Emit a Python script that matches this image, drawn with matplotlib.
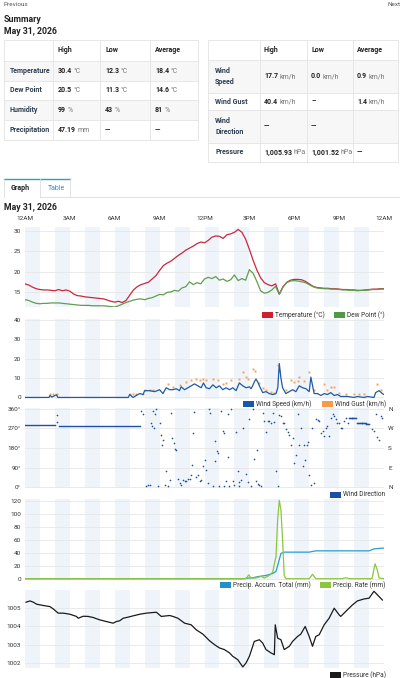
import numpy as np
import matplotlib
matplotlib.use('Agg')
import matplotlib.pyplot as plt
from matplotlib.patches import Rectangle

plt.rcParams['font.family'] = ['Roboto', 'DejaVu Sans']

# ---------------- data ----------------
hours_q = np.arange(0, 24.01, 0.25)
temperature = [17.0, 16.7, 16.2, 15.8, 15.6, 15.5, 15.5, 15.4, 15.3, 15.6, 15.3, 15.5,
               15.2, 14.5, 14.1, 14.0, 13.8, 13.7, 13.6, 13.5, 13.4, 13.3, 13.0, 12.7,
               12.5, 12.7, 12.4, 12.9, 14.2, 15.5, 16.3, 16.8, 17.1, 17.4, 18.2, 19.0,
               20.3, 21.5, 22.1, 22.6, 23.3, 24.0, 24.6, 25.3, 25.8, 26.3, 26.9, 27.3,
               27.1, 27.7, 28.5, 28.8, 28.7, 28.2, 29.1, 29.3, 29.7, 30.4, 29.7, 28.0,
               25.5, 22.8, 20.4, 18.5, 17.3, 16.8, 16.5, 17.0, 14.5, 16.3, 17.4, 17.9,
               18.1, 18.1, 18.0, 17.6, 17.0, 16.4, 16.1, 16.0, 15.9, 15.9, 15.8, 15.8,
               15.7, 15.6, 15.6, 15.5, 15.5, 15.4, 15.4, 15.5, 15.6, 15.7, 15.7, 15.8, 15.8]
dew_point = [13.1, 12.9, 12.5, 12.2, 12.1, 12.2, 12.2, 12.3, 12.3, 12.3, 12.2, 12.1,
             12.0, 11.9, 11.8, 11.7, 11.7, 11.7, 11.6, 11.6, 11.6, 11.6, 11.5, 11.4,
             11.3, 11.6, 12.0, 12.4, 12.7, 13.0, 13.2, 13.3, 13.1, 13.4, 13.6, 14.0,
             14.4, 14.3, 14.9, 15.0, 15.4, 15.2, 16.0, 16.3, 17.5, 16.8, 17.3, 17.0,
             18.2, 18.6, 18.3, 18.8, 17.9, 18.2, 17.6, 18.0, 19.2, 17.8, 18.3, 17.9,
             20.5, 19.6, 17.6, 15.3, 14.7, 14.9, 15.5, 16.4, 14.4, 16.2, 17.3, 17.7,
             17.8, 17.7, 17.5, 17.3, 16.8, 16.3, 16.0, 15.9, 15.8, 15.8, 15.7, 15.7,
             15.6, 15.5, 15.5, 15.4, 15.4, 15.3, 15.4, 15.4, 15.5, 15.6, 15.6, 15.7, 15.7]

wind_hours = [0, 1.6, 1.67, 1.8, 2.1, 2.2, 6.9, 7.0, 7.22, 7.44, 7.67, 7.89, 8.0, 8.33, 8.67,
              9.0, 9.22, 9.44, 9.67, 9.89, 10.11, 10.33, 10.44, 10.67, 10.89, 11.11, 11.33,
              11.56, 11.78, 11.93, 12.11, 12.33, 12.56, 12.78, 13.0, 13.22, 13.44, 13.67,
              13.89, 14.11, 14.33, 14.56, 14.78, 15.0, 15.11, 15.22, 15.33, 15.44, 15.56,
              15.67, 15.89, 16.11, 16.33, 16.56, 16.78, 16.9, 17.0, 17.11, 17.22, 17.44,
              17.67, 17.89, 18.11, 18.33, 18.56, 18.78, 19.0, 19.11, 19.33, 19.56, 19.78,
              20.0, 20.22, 20.44, 20.67, 20.89, 21.11, 21.56, 22.0, 22.22, 22.67, 22.89,
              23.33, 23.44, 23.67, 23.89, 24.0]
wind_speed = [0, 0, 1.0, 0.2, 1.4, 0, 0, 1.5, 0, 1.0, 2.0, 1.5, 3.5, 3.5, 3.0,
              4.0, 2.0, 5.0, 4.0, 4.0, 4.5, 3.5, 5.5, 4.0, 5.0, 6.0, 7.0,
              6.0, 5.0, 7.5, 5.0, 4.5, 6.5, 5.0, 6.0, 4.0, 5.0, 4.0,
              5.0, 3.5, 7.5, 6.0, 5.0, 5.5, 4.5, 6.0, 8.0, 9.5, 8.0,
              6.0, 2.5, 3.0, 2.0, 1.5, 2.0, 5.0, 17.5, 10.0, 5.0, 2.0,
              3.0, 4.0, 3.0, 6.0, 5.0, 4.5, 3.0, 10.5, 2.0, 2.0, 1.0,
              2.0, 1.5, 2.5, 1.0, 1.5, 0.5, 0.5, 0, 0.5, 0, 0.5,
              0, 2.5, 3.5, 2.0, 1.5]
gust_hours = [1.67, 1.89, 2.11, 7.0, 7.22, 7.44, 7.89, 8.0, 8.33, 8.56, 9.56, 9.89, 10.33,
              10.78, 11.11, 11.44, 11.67, 11.89, 12.11, 12.56, 12.89, 13.22, 13.44, 13.78,
              14.33, 14.56, 14.78, 14.89, 15.22, 15.4, 15.67, 15.89, 16.11, 16.44, 16.67,
              16.89, 17.0, 17.44, 17.78, 18.0, 18.22, 18.33, 18.67, 19.0, 19.33, 20.0,
              20.22, 20.44, 20.67, 21.0, 21.44, 22.0, 22.33, 22.67, 23.56, 23.78]
wind_gust = [1.7, 1.7, 1.7, 1.7, 1.7, 1.7, 1.7, 3.8, 3.8, 3.8, 7.0, 5.2, 6.4,
             8.2, 9.0, 9.4, 9.0, 9.4, 9.0, 9.4, 9.0, 7.0, 7.6, 9.0,
             9.4, 13.0, 10.8, 9.4, 14.6, 13.4, 7.6, 4.7, 3.8, 3.0, 2.4,
             17.0, 13.4, 3.8, 9.0, 8.2, 8.7, 10.8, 8.7, 13.0, 3.8, 7.0,
             3.8, 5.6, 5.6, 2.1, 1.7, 1.7, 1.7, 1.7, 7.0, 3.8]

dir_steady_hours_a = [0, 2.0]
dir_steady_a = [285, 285]
dir_steady_hours_b = [2.25, 7.7]
dir_steady_b = [280, 280]
dir_hours = [2.13, 2.16, 7.78, 7.89, 8.11, 8.22, 8.33, 8.44, 8.51, 8.6, 8.56, 8.67, 8.78, 8.89,
             9.0, 9.11, 9.22, 9.18, 9.33, 9.44, 9.56, 9.71, 9.78, 9.84, 9.93, 10.0, 10.07,
             10.22, 10.33, 10.44, 10.56, 10.67, 10.78, 10.89, 11.0, 11.11, 11.18, 11.22,
             11.33, 11.44, 11.56, 11.67, 11.78, 11.89, 12.0, 12.11, 12.22, 12.33, 12.4,
             12.56, 12.67, 12.73, 12.82, 12.89, 13.0, 13.11, 13.22, 13.29, 13.33, 13.44,
             13.56, 13.56, 13.67, 13.78, 13.89, 14.0, 14.11, 14.22, 14.29, 14.33, 14.44,
             14.56, 14.78, 14.89, 15.0, 15.11, 15.27, 15.33, 15.44, 15.49, 15.56, 15.67,
             15.78, 15.89, 16.0, 16.11, 16.22, 16.33, 16.44, 16.56, 16.67, 16.78, 16.89,
             17.0, 17.11, 17.22, 17.33, 17.44, 17.56, 17.67, 17.78, 17.89, 18.0, 18.11,
             18.22, 18.33, 18.44, 18.56, 18.67, 18.73, 18.82, 18.89, 19.0, 19.11, 19.22,
             19.33, 19.44, 19.56, 19.67, 19.78, 19.89, 20.0, 20.11, 20.22, 20.33, 20.44,
             20.56, 20.67, 20.78, 20.89, 21.0, 21.11, 21.22, 21.33, 21.44, 21.56, 21.67,
             21.72, 21.78, 21.83, 21.89, 21.94, 22.0, 22.05, 22.11, 22.22, 22.28, 22.33,
             22.39, 22.44, 22.5, 22.56, 22.62, 22.67, 22.73, 22.78, 22.83, 22.89, 22.94,
             23.0, 23.22, 23.33, 23.44, 23.56, 23.67, 23.78, 23.89]
wind_direction = [330, 300, 349, 334, 6, 9, 11, 295, 280, 272, 349, 334, 357, 6,
                  295, 241, 218, 195, 11, 72, 6, 34, 341, 226, 203, 175, 172,
                  37, 18, 11, 34, 26, 26, 37, 37, 57, 100, 249,
                  345, 46, 57, 26, 34, 95, 126, 80, 18, 357, 341,
                  6, 118, 211, 165, 157, 6, 349, 257, 249, 3, 26,
                  138, 334, 3, 357, 26, 11, 254, 75, 22, 6, 34,
                  269, 60, 23, 314, 3, 357, 129, 26, 172, 15, 11,
                  6, 341, 303, 255, 303, 303, 292, 341, 298, 72, 6,
                  329, 326, 295, 292, 265, 252, 237, 195, 226, 111, 149,
                  334, 195, 272, 95, 195, 123, 195, 206, 57, 11, 272,
                  18, 311, 308, 303, 249, 257, 234, 272, 280, 234, 318,
                  334, 326, 311, 295, 292, 272, 272, 303, 318, 295, 318,
                  318, 318, 318, 318, 318, 318, 318, 318, 292, 292, 292,
                  292, 292, 292, 292, 292, 292, 292, 292, 288, 288, 288,
                  288, 265, 257, 334, 231, 215, 326, 318]

precip_total_hours = [0, 14.56, 15.22, 15.67, 16.11, 16.56, 16.78, 16.96, 17.11, 17.33,
                      19.0, 19.44, 23.0, 23.33, 23.89, 24.0]
precip_total = [0, 0, 1.5, 3.6, 5.0, 8.0, 11.4, 26.0, 39.0, 41.0,
                41.0, 43.0, 43.0, 46.0, 47.2, 47.2]
precip_rate_hours = [0, 14.78, 14.96, 15.11, 15.44, 15.78, 16.0, 16.33, 16.56, 16.67, 16.78,
                     16.89, 17.0, 17.11, 17.22, 17.33, 17.44, 19.0, 19.22, 19.44, 21.2,
                     21.44, 21.7, 23.2, 23.4, 23.56, 23.67, 24.0]
precip_rate = [0, 0, 6.0, 1.0, 1.0, 3.5, 1.0, 5.0, 10.0, 23.0, 34.0,
               91.0, 121.0, 106.0, 60.0, 5.0, 0, 0, 6.8, 0, 0,
               1.5, 0, 0, 23.0, 13.0, 1.0, 0]

pressure_hours = [0.07, 0.33, 0.56, 0.78, 1.22, 1.67, 1.89, 2.22, 2.56, 3.0, 3.44, 3.56,
                  3.89, 4.22, 4.56, 5.0, 5.44, 5.89, 6.11, 6.33, 6.56, 6.89, 7.22, 7.67,
                  8.11, 8.78, 9.11, 9.67, 9.89, 10.22, 10.67, 11.11, 11.44, 11.89, 12.33,
                  12.67, 13.0, 13.33, 13.67, 13.89, 14.22, 14.56, 14.78, 15.0, 15.33,
                  15.67, 15.89, 16.11, 16.44, 16.67, 16.73, 16.89, 17.11, 17.33, 17.67,
                  17.89, 18.22, 18.44, 18.73, 19.0, 19.22, 19.44, 19.67, 20.0, 20.33,
                  20.67, 21.0, 21.11, 21.44, 21.89, 22.22, 22.67, 23.0, 23.33, 23.67, 23.89]
pressure = [1005.33, 1005.40, 1005.33, 1005.22, 1005.15, 1005.09, 1004.96, 1004.73, 1004.73,
            1004.67, 1004.55, 1004.45, 1004.56, 1004.55, 1004.49, 1004.36, 1004.27, 1004.18,
            1004.27, 1004.31, 1004.45, 1004.51, 1004.58, 1004.67, 1004.73, 1004.78, 1004.55,
            1004.60, 1004.55, 1004.45, 1004.18, 1004.09, 1003.82, 1003.58, 1003.22, 1003.00,
            1002.82, 1002.73, 1002.55, 1002.36, 1002.18, 1001.78, 1002.00, 1002.36, 1003.18,
            1003.27, 1003.09, 1002.73, 1002.55, 1002.45, 1004.09, 1003.36, 1003.27, 1002.73,
            1002.91, 1003.18, 1003.45, 1003.58, 1004.00, 1003.45, 1002.91, 1003.45, 1003.55,
            1004.09, 1004.45, 1005.00, 1004.64, 1004.55, 1004.82, 1005.18, 1005.40, 1005.51,
            1005.55, 1005.93, 1005.64, 1005.45]

time_ticks = [0, 3, 6, 9, 12, 15, 18, 21, 24]
time_labels = ['12AM', '3AM', '6AM', '9AM', '12PM', '3PM', '6PM', '9PM', '12AM']

left_table_header = ['High', 'Low', 'Average']
left_table_rows = ['Temperature', 'Dew Point', 'Humidity', 'Precipitation']
left_table_cells = [[('30.4', '°C'), ('12.3', '°C'), ('18.4', '°C')],
                    [('20.5', '°C'), ('11.3', '°C'), ('14.6', '°C')],
                    [('99', '%'), ('43', '%'), ('81', '%')],
                    [('47.19', 'mm'), ('—', ''), ('—', '')]]
right_table_rows = ['Wind\nSpeed', 'Wind Gust', 'Wind\nDirection', 'Pressure']
right_table_cells = [[('17.7', 'km/h'), ('0.0', 'km/h'), ('0.9', 'km/h')],
                     [('40.4', 'km/h'), ('–', ''), ('1.4', 'km/h')],
                     [('—', ''), ('—', ''), ('', '')],
                     [('1,005.93', 'hPa'), ('1,001.52', 'hPa'), ('—', '')]]

# ---------------- figure ----------------
W, H = 400, 678
fig = plt.figure(figsize=(4, 6.78), dpi=100)
bg = fig.add_axes([0, 0, 1, 1])
bg.set_xlim(0, W)
bg.set_ylim(H, 0)
bg.axis('off')

TXT = '#333333'
GRID = '#e6e6e6'
STRIPE = '#eff4fa'

# header
bg.text(4, 5, 'Previous', fontsize=4.6, color='#555555', va='center')
bg.text(388, 5, 'Next', fontsize=4.6, color='#555555', va='center', clip_on=False)
bg.text(4, 19, 'Summary', fontsize=6.3, fontweight='bold', color='#222222', va='center')
bg.text(4, 31, 'May 31, 2026', fontsize=6.3, fontweight='bold', color='#222222', va='center')


def cell_value(x, y, val, unit):
    t = bg.text(x, y, val, fontsize=5.0, fontweight='bold', color='#222222', va='center')
    if unit:
        bg.annotate(unit, xy=(1, 0), xycoords=t, xytext=(1.2, 0),
                    textcoords='offset points', fontsize=5.0, color='#777777',
                    va='bottom', ha='left')


def hline(x0, x1, y, c='#e3e3e3'):
    bg.plot([x0, x1], [y, y], color=c, lw=0.6)


def vline(x, y0, y1, c='#e3e3e3'):
    bg.plot([x, x], [y0, y1], color=c, lw=0.6)


# left table
lx = [4, 53, 100, 150, 198]
ly = [40, 61, 81, 100, 120, 140]
for i in range(1, len(ly) - 1):
    if i % 2 == 1:
        bg.add_patch(Rectangle((lx[0], ly[i]), lx[-1] - lx[0], ly[i + 1] - ly[i],
                               color='#f7f7f7', lw=0, zorder=0))
for y in ly:
    hline(lx[0], lx[-1], y)
for x in lx:
    vline(x, ly[0], ly[-1])
for j, h in enumerate(left_table_header):
    bg.text(lx[j + 1] + 5, (ly[0] + ly[1]) / 2, h, fontsize=5.0, fontweight='bold',
            color='#222222', va='center')
for i, r in enumerate(left_table_rows):
    yc = (ly[i + 1] + ly[i + 2]) / 2
    bg.text(lx[0] + 6, yc, r, fontsize=5.0, fontweight='bold', color='#2d3e50', va='center')
    for j, (v, u) in enumerate(left_table_cells[i]):
        cell_value(lx[j + 1] + 5, yc, v, u)

# right table
rx = [208, 260, 307, 353, 398]
ry = [40, 60, 93, 110, 143, 162]
for i in range(1, len(ry) - 1):
    if i % 2 == 1:
        bg.add_patch(Rectangle((rx[0], ry[i]), rx[-1] - rx[0], ry[i + 1] - ry[i],
                               color='#f7f7f7', lw=0, zorder=0))
for y in ry:
    hline(rx[0], rx[-1], y)
for x in rx:
    vline(x, ry[0], ry[-1])
for j, h in enumerate(left_table_header):
    bg.text(rx[j + 1] + 4, (ry[0] + ry[1]) / 2, h, fontsize=5.0, fontweight='bold',
            color='#222222', va='center')
for i, r in enumerate(right_table_rows):
    yc = (ry[i + 1] + ry[i + 2]) / 2
    bg.text(rx[0] + 7, yc, r, fontsize=5.0, fontweight='bold', color='#2d3e50',
            va='center', linespacing=1.6)
    for j, (v, u) in enumerate(right_table_cells[i]):
        if v:
            cell_value(rx[j + 1] + 4, yc, v, u)

# tabs
bg.plot([4, 70], [179, 179], color='#2aa3b8', lw=1.0)
vline(4, 179, 197, '#dddddd')
vline(40, 179, 197, '#dddddd')
vline(70, 179, 197, '#dddddd')
hline(40, 400, 197, '#dddddd')
bg.text(11, 188, 'Graph', fontsize=5.0, fontweight='bold', color='#222222', va='center')
bg.text(48, 188, 'Table', fontsize=5.0, color='#3b8fc4', va='center')
bg.text(4, 208, 'May 31, 2026', fontsize=6.3, fontweight='bold', color='#222222', va='center')


def legend_item(x, y, color, label):
    bg.add_patch(Rectangle((x, y - 3), 11, 6, color=color, lw=0))
    bg.text(x + 13, y, label, fontsize=4.7, color=TXT, va='center')


def panel(top, bottom, left=25, right=384):
    ax = fig.add_axes([left / W, 1 - bottom / H, (right - left) / W, (bottom - top) / H])
    ax.set_xlim(0, 24)
    for h0 in range(0, 24, 2):
        ax.axvspan(h0, h0 + 1, color=STRIPE, lw=0, zorder=0)
    for s in ax.spines.values():
        s.set_visible(False)
    ax.set_xticks([])
    ax.tick_params(axis='y', length=0, labelsize=4.6, pad=3, labelcolor=TXT)
    ax.grid(axis='y', color=GRID, lw=0.6)
    ax.set_axisbelow(True)
    return ax


# temperature
ax1 = panel(227, 307)
ax1.plot(hours_q, temperature, color='#c8283b', lw=0.9)
ax1.plot(hours_q, dew_point, color='#5f9e4f', lw=0.9)
ax1.set_ylim(11.3, 31.0)
ax1.set_yticks([15, 20, 25, 30])
ax1.xaxis.tick_top()
ax1.set_xticks(time_ticks)
ax1.set_xticklabels(time_labels)
ax1.tick_params(axis='x', length=0, labelsize=4.6, pad=4, labelcolor=TXT)
legend_item(262, 315, '#d0202e', 'Temperature (°C)')
legend_item(334, 315, '#4f9a44', 'Dew Point (°)')

# wind
ax2 = panel(319, 399)
ax2.plot(gust_hours, wind_gust, linestyle='none', marker='s', ms=1.4, color='#f4a259', mew=0)
ax2.plot(wind_hours, wind_speed, color='#1f5aa6', lw=0.9)
ax2.set_ylim(-0.8, 40.5)
ax2.set_yticks([0, 10, 20, 30, 40])
legend_item(243, 404, '#1558b0', 'Wind Speed (km/h)')
legend_item(322, 404, '#f79a4c', 'Wind Gust (km/h)')

# wind direction
ax3 = panel(408, 488)
ax3.plot(dir_steady_hours_a, dir_steady_a, color='#1f4fa0', lw=1.0)
ax3.plot(dir_steady_hours_b, dir_steady_b, color='#1f4fa0', lw=1.0)
ax3.plot(dir_hours, wind_direction, linestyle='none', marker='o', ms=1.2, mew=0,
         color='#1f4fa0')
ax3.set_ylim(-4, 363)
ax3.set_yticks([0, 90, 180, 270, 360])
ax3.set_yticklabels(['0°', '90°', '180°', '270°', '360°'])
ax3r = ax3.twinx()
ax3r.set_ylim(ax3.get_ylim())
ax3r.set_yticks([0, 90, 180, 270, 360])
ax3r.set_yticklabels(['N', 'E', 'S', 'W', 'N'])
ax3r.tick_params(axis='y', length=0, labelsize=4.6, pad=3, labelcolor=TXT)
for s in ax3r.spines.values():
    s.set_visible(False)
legend_item(330, 495, '#1a4fa3', 'Wind Direction')

# precipitation
ax4 = panel(499, 580)
ax4.plot(precip_total_hours, precip_total, color='#2b9ccf', lw=0.9)
ax4.plot(precip_rate_hours, precip_rate, color='#8cc63e', lw=0.9)
ax4.set_ylim(-2, 123)
ax4.set_yticks([0, 20, 40, 60, 80, 100, 120])
legend_item(220, 585, '#2390c8', 'Precip. Accum. Total (mm)')
legend_item(320, 585, '#8cc63e', 'Precip. Rate (mm)')

# pressure
ax5 = panel(590, 668)
ax5.plot(pressure_hours, pressure, color='#1a1a1a', lw=0.9)
ax5.set_ylim(1001.72, 1006.0)
ax5.set_yticks([1002, 1003, 1004, 1005])
legend_item(330, 675, '#1a1a1a', 'Pressure (hPa)')

fig.savefig('out.png', dpi=100)
